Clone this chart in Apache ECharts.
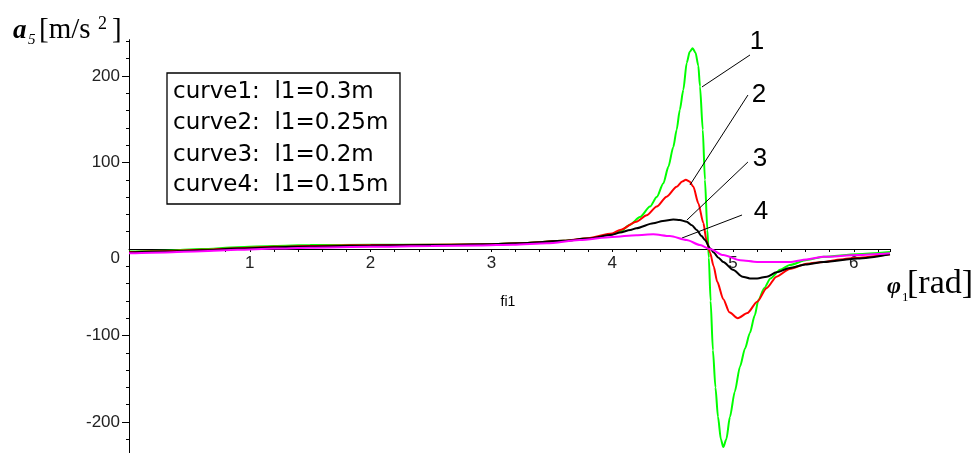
<!DOCTYPE html>
<html>
<head>
<meta charset="utf-8">
<script src="https://cdn.jsdelivr.net/npm/echarts@6.0.0/dist/echarts.min.js"></script>
<style>
html,body{margin:0;padding:0;background:#fff;}
#chart{width:976px;height:453px;}
</style>
</head>
<body>
<div id="chart"></div>
<script>
// ---- data (phi1 [rad], a5 [m/s^2]) ----
const curve1 = [[0,-3],[0.3,-2],[0.6,0],[0.9,2],[1.2,3.5],[1.5,4.5],[2.0,5],[2.5,5],[3.0,5.5],[3.3,7],[3.6,9.5],[3.8,12],[4.0,17],[4.065,20],[4.147,28],[4.23,37],[4.313,49],[4.369,60],[4.424,76],[4.465,95],[4.506,118],[4.534,138],[4.56,161],[4.589,184],[4.617,215],[4.642,228],[4.666,232],[4.69,227],[4.713,212],[4.727,188],[4.75,138],[4.768,80],[4.788,22],[4.80,-10],[4.815,-60],[4.834,-117],[4.855,-160],[4.876,-194],[4.9,-220],[4.92,-229],[4.945,-220],[4.975,-194],[5.015,-165],[5.058,-136],[5.1,-115],[5.14,-97],[5.18,-77],[5.21,-59],[5.26,-45],[5.31,-34],[5.39,-24],[5.47,-18.5],[5.61,-12.7],[5.75,-9],[6.03,-6],[6.3,-3.5]];
const curve2 = [[0,-3.5],[0.3,-2.5],[0.6,-1],[0.9,1],[1.2,2.5],[1.5,3.5],[2.0,4.5],[2.5,5],[3.0,5.5],[3.3,7],[3.6,9.5],[3.8,12.5],[4.0,18],[4.065,22],[4.2,31.6],[4.286,39],[4.369,49],[4.451,60.5],[4.534,72],[4.58,78],[4.61,80],[4.64,78],[4.672,72],[4.713,53],[4.755,30],[4.78,10.4],[4.81,-4],[4.84,-20],[4.87,-38],[4.92,-58],[4.97,-73],[5.04,-80],[5.12,-74],[5.2,-61],[5.28,-45],[5.36,-32],[5.47,-23],[5.61,-17],[5.75,-15],[5.89,-12],[6.03,-10],[6.3,-6]];
const curve3 = [[0,-4],[0.3,-3],[0.6,-1.5],[0.9,0.5],[1.2,2],[1.5,3],[2.0,4],[2.5,4.5],[3.0,5.5],[3.3,7],[3.6,9.5],[3.8,12],[4.0,16.5],[4.065,19],[4.15,22],[4.2,24],[4.34,29.7],[4.42,32.5],[4.506,34],[4.56,33.5],[4.617,31.6],[4.66,27.5],[4.7,22],[4.74,15],[4.768,10.4],[4.81,1],[4.84,-4],[4.88,-10],[4.92,-15],[5.0,-24],[5.08,-32],[5.14,-34],[5.2,-34],[5.28,-32],[5.36,-27],[5.47,-22],[5.6,-18],[5.75,-15],[6.03,-11],[6.3,-6]];
const curve4 = [[0,-5],[0.3,-4],[0.6,-2.5],[0.9,-1],[1.2,0.5],[1.5,1.5],[2.0,2.5],[2.5,3.5],[2.9,4],[3.18,5],[3.46,6.6],[3.73,10.4],[4.0,14],[4.2,16],[4.34,17],[4.478,15],[4.617,10.4],[4.727,4.6],[4.81,0],[4.92,-7],[5.06,-13],[5.2,-15],[5.47,-15],[5.61,-12],[5.75,-9],[6.03,-7],[6.3,-5]];
const seriesNames = ['curve1','curve2','curve3','curve4'];
const seriesColors = ['#00ff00','#ff0000','#000000','#ff00ff'];
const legendLines = ['curve1:  l1=0.3m','curve2:  l1=0.25m','curve3:  l1=0.2m','curve4:  l1=0.15m'];
const xTickLabels = [1,2,3,4,5,6];
const yTickLabels = [-200,-100,0,100,200];
const yMajorTicks = [-200,-100,100,200];
const yMinorTicks = [-220,-200,-180,-160,-140,-120,-100,-80,-60,-40,-20,20,40,60,80,100,120,140,160,180,200,220,240];
// leader lines: [label end point, point on curve]
const leaderLines = [
  [[5.141,224.3],[4.743,187.3]],
  [[5.124,178],[4.644,74]],
  [[5.124,100.6],[4.619,33.5]],
  [[5.075,39.3],[4.578,12.7]]
];
const curveLabels = ['1','2','3','4'];

const chart = echarts.init(document.getElementById('chart'), null, {renderer:'canvas'});
const tickFont = {fontFamily:'Liberation Sans', fontSize:17, color:'#222'};
const allData = [curve1, curve2, curve3, curve4];

const series = allData.map((d, i) => ({
  name: seriesNames[i],
  type: 'line',
  data: d,
  showSymbol: false,
  smooth: 0.25,
  smoothMonotone: 'x',
  lineStyle: {width: 2, color: seriesColors[i]},
  itemStyle: {color: seriesColors[i]},
  z: 2 + i,
  silent: true
}));
series[0].markLine = {
  silent: true,
  symbol: ['none','none'],
  label: {show: false},
  lineStyle: {color: '#000', width: 1, type: 'solid'},
  data: leaderLines.map(l => [{coord: l[0]}, {coord: l[1]}])
};

const labelPos = [[757,42],[759,95],[760,159],[761,212]];
const graphics = [];
graphics.push({type:'rect', shape:{x:167, y:73, width:233, height:131}, style:{fill:'#fff', stroke:'#000', lineWidth:1.3}, z:100});
const legendMid = [92,123.5,155,185.5];
legendLines.forEach((t, i) => graphics.push({type:'text', z:101, style:{text:t, x:173, y:legendMid[i], font:'23px "DejaVu Sans"', fill:'#000', textAlign:'left', textVerticalAlign:'middle', align:'left', verticalAlign:'middle'}}));
curveLabels.forEach((t, i) => graphics.push({type:'text', z:101, style:{text:t, x:labelPos[i][0], y:labelPos[i][1], font:'26px "Liberation Sans"', fill:'#000', textAlign:'center', textVerticalAlign:'middle', align:'center', verticalAlign:'middle'}}));
graphics.push({type:'text', z:101, style:{text:'fi1', x:508, y:302, font:'14px "Liberation Sans"', fill:'#000', textAlign:'center', textVerticalAlign:'middle', align:'center', verticalAlign:'middle'}});
// y axis name a5 [m/s^2]
const yName = [
  {t:'a', x:13, y:31, f:'italic bold 27px "Liberation Serif"'},
  {t:'5', x:28, y:40, f:'italic 15px "Liberation Serif"'},
  {t:'[m/s', x:39, y:30.5, f:'29px "Liberation Serif"'},
  {t:'2', x:98, y:24, f:'18px "Liberation Serif"'},
  {t:']', x:112, y:30.5, f:'29px "Liberation Serif"'}
];
// x axis name phi1 [rad]
const xName = [
  {t:'φ', x:887, y:287, f:'italic bold 24px "Liberation Serif"'},
  {t:'1', x:902, y:297.5, f:'13px "Liberation Serif"'},
  {t:'[rad]', x:907, y:284.5, f:'34px "Liberation Serif"'}
];
yName.concat(xName).forEach(p => graphics.push({type:'text', z:101, style:{text:p.t, x:p.x, y:p.y, font:p.f, fill:'#000', textAlign:'left', textVerticalAlign:'middle', align:'left', verticalAlign:'middle'}}));

const yMin = -240, yMax = 242;
const gridTop = 39.67, gridBottom = -3.6, chartH = 453;
// pixel row of y=0 relative to grid bottom -> offset for the label-only x axis
const zeroOffset = -((chartH - gridBottom) - (gridTop + (yMax / (yMax - yMin)) * (chartH - gridBottom - gridTop)));
chart.setOption({
  animation: false,
  backgroundColor: '#fff',
  grid: {left:129, right:86, top:gridTop, bottom:gridBottom, containLabel:false, outerBoundsMode:'none'},
  xAxis: [
    {
      type:'value', min:0, max:6.3, interval:0.2,
      axisLine:{show:true, onZero:true, onZeroAxisIndex:0, lineStyle:{color:'#000', width:1}},
      axisTick:{show:true, length:3, lineStyle:{color:'#000'}},
      axisLabel:{show:false},
      splitLine:{show:false}
    },
    {
      type:'value', position:'bottom', offset:zeroOffset, min:0, max:6.3,
      axisLine:{show:false, onZero:false},
      axisTick:{show:false},
      axisLabel:{show:true, customValues:xTickLabels, margin:6, ...tickFont},
      splitLine:{show:false}
    }
  ],
  yAxis: [
    {
      type:'value', min:yMin, max:yMax,
      axisLine:{show:true, onZero:true, lineStyle:{color:'#000', width:1}},
      axisTick:{show:true, length:3, customValues:yMinorTicks, lineStyle:{color:'#000'}},
      axisLabel:{show:false},
      splitLine:{show:false}
    },
    {
      type:'value', position:'left', offset:0, min:yMin, max:yMax,
      axisLine:{show:false, onZero:false},
      axisTick:{show:true, length:7, customValues:yMajorTicks, lineStyle:{color:'#000'}},
      axisLabel:{show:true, customValues:yTickLabels, margin:9, ...tickFont,
        formatter: v => (v === 0 ? '{z|0}' : String(v)),
        rich:{z:{fontFamily:'Liberation Sans', fontSize:17, color:'#222', padding:[18,0,0,0]}}
      },
      splitLine:{show:false}
    }
  ],
  series: series,
  graphic: graphics
});
</script>
</body>
</html>
